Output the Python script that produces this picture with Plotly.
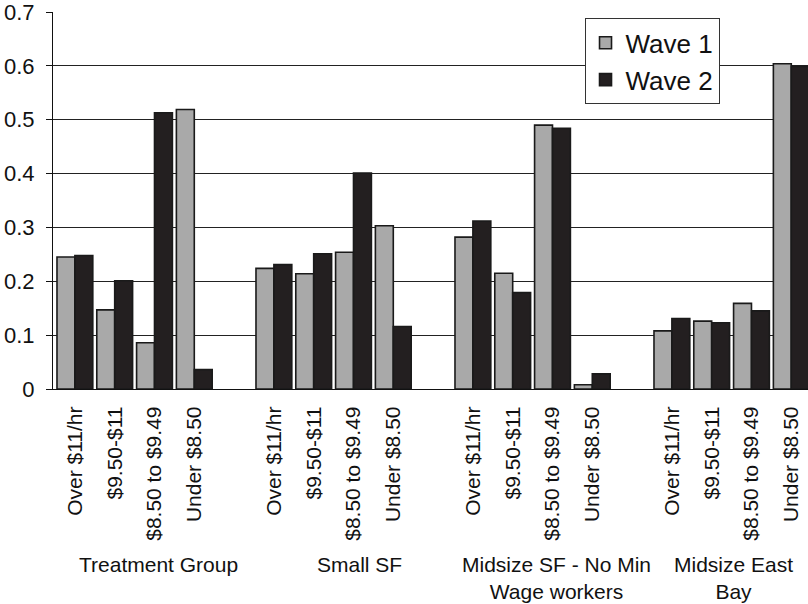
import plotly.graph_objects as go

groups = ["Treatment Group", "Small SF", "Midsize SF - No Min<br>Wage workers", "Midsize East<br>Bay"]
categories = ["Over $11/hr", "$9.50-$11", "$8.50 to $9.49", "Under $8.50"]
wave1 = [
    [0.245, 0.147, 0.086, 0.519],
    [0.224, 0.214, 0.254, 0.303],
    [0.282, 0.215, 0.490, 0.008],
    [0.108, 0.126, 0.159, 0.604],
]
wave2 = [
    [0.248, 0.201, 0.513, 0.036],
    [0.231, 0.251, 0.401, 0.116],
    [0.312, 0.179, 0.484, 0.028],
    [0.131, 0.123, 0.145, 0.599],
]
series_names = ["Wave 1", "Wave 2"]
y_ticks = [0, 0.1, 0.2, 0.3, 0.4, 0.5, 0.6, 0.7]
y_tick_text = ["0", "0.1", "0.2", "0.3", "0.4", "0.5", "0.6", "0.7"]

# slot positions: each group occupies len(categories) slots plus one empty gap slot
step = len(categories) + 1
xpos = [g * step + c for g in range(len(groups)) for c in range(len(categories))]
xlabels = [categories[c] for g in range(len(groups)) for c in range(len(categories))]
w1 = [v for row in wave1 for v in row]
w2 = [v for row in wave2 for v in row]

FONT = "Liberation Sans, Arial, sans-serif"

fig = go.Figure()
fig.add_trace(go.Bar(x=xpos, y=w1, name=series_names[0],
                     marker=dict(color="#a9a9a9", line=dict(color="#1a1a1a", width=1.6))))
fig.add_trace(go.Bar(x=xpos, y=w2, name=series_names[1],
                     marker=dict(color="#231f20", line=dict(color="#1a1a1a", width=1.6))))

# group labels
group_x_offsets = [2.1, 2.15, 2.1, 1.55]
for g, name in enumerate(groups):
    fig.add_annotation(x=g * step + group_x_offsets[g], y=0, xref="x", yref="paper",
                       text=name, showarrow=False, yanchor="top", yshift=-162,
                       font=dict(family=FONT, size=21, color="#111"))

fig.update_layout(
    width=808, height=604,
    margin=dict(l=53, r=0, t=12, b=215, autoexpand=False),
    paper_bgcolor="white", plot_bgcolor="white",
    barmode="group", bargap=0.1, bargroupgap=0,
    font=dict(family=FONT, color="#111"),
    xaxis=dict(range=[-0.55, 18.42], tickmode="array", tickvals=xpos, ticktext=xlabels,
               tickangle=-90, tickfont=dict(family=FONT, size=21, color="#111"),
               showgrid=False, showline=True, linecolor="#111", linewidth=1.2,
               ticks="", ticklabelstandoff=8, zeroline=False, automargin=False,
               ticklabeloverflow="allow"),
    yaxis=dict(range=[0, 0.7], tickmode="array", tickvals=y_ticks, ticktext=y_tick_text,
               tickfont=dict(family=FONT, size=22, color="#111"),
               showgrid=True, gridcolor="#222", gridwidth=1,
               showline=True, linecolor="#111", linewidth=1.2,
               ticks="outside", ticklen=6, tickcolor="#111", zeroline=False,
               automargin=False, ticklabelstandoff=7, ticklabeloverflow="allow"),
    legend=dict(x=0.704, y=0.983, xanchor="left", yanchor="top",
                bgcolor="white", bordercolor="#333", borderwidth=1,
                font=dict(family=FONT, size=26, color="#111"),
                itemwidth=30, tracegroupgap=0),
    showlegend=True,
)

fig.write_html("out.html", config={"displayModeBar": False},
               post_script="document.body.style.margin='0';document.body.style.overflow='hidden';")
